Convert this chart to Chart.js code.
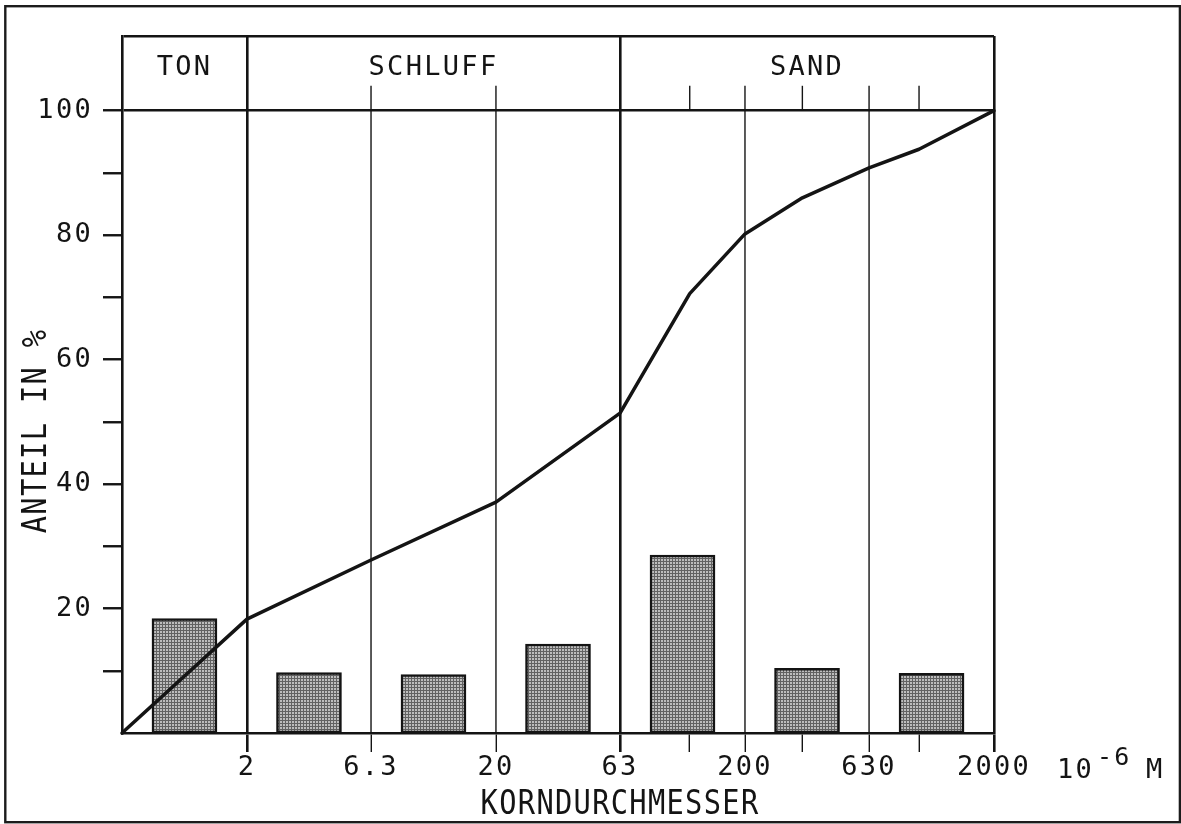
<!DOCTYPE html>
<html>
<head>
<meta charset="utf-8">
<title>Korngrößenverteilung</title>
<script src="https://cdn.jsdelivr.net/npm/chart.js@4"></script>
<style>
  html, body { margin: 0; padding: 0; background: #fff; }
  #wrap { width: 1181px; height: 824px; position: relative; }
</style>
</head>
<body>
<div id="wrap"><canvas id="grain"></canvas></div>
<script>
// Grain size classes (diameter in 10^-6 m) and mass fraction per class in %
const classEdges  = [0.63, 2, 6.3, 20, 63, 200, 630, 2000];
const fractionPct = [18.4, 9.7, 9.4, 14.3, 28.6, 10.4, 9.6];

// Cumulative passing curve
const sieveSizes = [0.63, 2, 6.3, 20, 63, 120, 200, 340, 630, 1000, 2000];
const passingPct = [0, 18.3, 27.8, 37.1, 51.4, 70.6, 80.2, 86.0, 90.8, 93.8, 100];

// Axis ticks
const majorTicks = [2, 6.3, 20, 63, 200, 630, 2000];
const tickLabels = ['2', '6.3', '20', '63', '200', '630', '2000'];
const minorTicks = [120, 340, 1000];
const yTickVals  = [10, 20, 30, 40, 50, 60, 70, 80, 90, 100];
const yLabelVals = [20, 40, 60, 80, 100];

// Soil classes shown in the header band
const soilNames  = ['TON', 'SCHLUFF', 'SAND'];
const soilBounds = [[0.63, 2], [2, 63], [63, 2000]];
const mainBounds = [2, 63, 2000];

const X_MIN = classEdges[0];
const X_MAX = classEdges[classEdges.length - 1];
const INK = '#141414';
const MONO = 'DejaVu Sans Mono';
const Y_TOP = 112;          // upper edge of the header band
const HEADER_TICK = 104;    // upper end of thin grid lines / header ticks
const HEADER_TEXT = 105.8;  // baseline of the class names
const LABEL_SPACING = '2.3px';

function stipple() {
  const p = document.createElement('canvas');
  p.width = 3; p.height = 3;
  const g = p.getContext('2d');
  g.fillStyle = '#bdbdbd'; g.fillRect(0, 0, 3, 3);
  g.fillStyle = '#626262'; g.fillRect(0, 0, 3, 1); g.fillRect(0, 0, 1, 3);
  return g.createPattern(p, 'repeat');
}

const decor = {
  id: 'decor',
  beforeDraw(chart) {
    chart.ctx.letterSpacing = LABEL_SPACING;
  },
  beforeDatasetsDraw(chart) {
    const { ctx, chartArea: a, scales: { x, y } } = chart;
    const seg = (x1, y1, x2, y2) => { ctx.beginPath(); ctx.moveTo(x1, y1); ctx.lineTo(x2, y2); ctx.stroke(); };
    const top = y.getPixelForValue(HEADER_TICK);
    ctx.save();
    ctx.strokeStyle = INK;
    ctx.lineWidth = 1.4;
    majorTicks.filter(v => !mainBounds.includes(v)).forEach(v => {
      const px = x.getPixelForValue(v);
      seg(px, a.bottom, px, top);
    });
    minorTicks.forEach(v => {
      const px = x.getPixelForValue(v);
      seg(px, y.getPixelForValue(100), px, top);
    });
    ctx.restore();
  },
  afterDraw(chart) {
    const { ctx, scales: { x, y } } = chart;
    ctx.save();
    ctx.fillStyle = INK;

    // class names in the header band
    ctx.letterSpacing = LABEL_SPACING;
    ctx.font = '27px "' + MONO + '"';
    ctx.textAlign = 'center';
    ctx.textBaseline = 'alphabetic';
    soilNames.forEach((n, i) => {
      const [lo, hi] = soilBounds[i];
      ctx.fillText(n, x.getPixelForValue(Math.sqrt(lo * hi)), y.getPixelForValue(HEADER_TEXT));
    });

    // unit next to the x axis
    ctx.textAlign = 'left';
    ctx.fillText('10', 1057, 777.5);
    ctx.font = '25px "' + MONO + '"';
    ctx.fillText('-6', 1097, 765);
    ctx.font = '27px "' + MONO + '"';
    ctx.fillText('M', 1146, 777.5);

    // axis titles
    ctx.letterSpacing = '1.5px';
    ctx.font = '33px "' + MONO + '"';
    ctx.textAlign = 'center';
    ctx.save();
    ctx.translate(x.getPixelForValue(63), 814);
    ctx.scale(0.87, 1);
    ctx.fillText('KORNDURCHMESSER', 0, 0);
    ctx.restore();

    ctx.save();
    ctx.translate(45.5, 431);
    ctx.rotate(-Math.PI / 2);
    ctx.scale(0.87, 1);
    ctx.fillText('ANTEIL IN %', 0, 0);
    ctx.restore();

    // outer frame
    ctx.strokeStyle = '#1c1c1c';
    ctx.lineWidth = 2.4;
    ctx.strokeRect(5.3, 6.2, 1174.6, 816);
    ctx.restore();
  }
};

const tickFont = { family: MONO, size: 27 };

new Chart(document.getElementById('grain'), {
  type: 'bar',
  data: {
    datasets: [
      {
        type: 'line',
        data: sieveSizes.map((d, i) => ({ x: d, y: passingPct[i] })),
        borderColor: INK,
        borderWidth: 3.5,
        borderJoinStyle: 'round',
        borderCapStyle: 'round',
        pointRadius: 0,
        tension: 0,
        clip: false,
        order: 0
      },
      {
        type: 'bar',
        data: fractionPct.map((v, i) => ({ x: Math.sqrt(classEdges[i] * classEdges[i + 1]), y: v })),
        backgroundColor: stipple(),
        borderColor: INK,
        borderWidth: 2.5,
        borderSkipped: false,
        barThickness: 65,
        order: 1
      }
    ]
  },
  options: {
    responsive: true,
    maintainAspectRatio: false,
    animation: false,
    events: [],
    layout: { padding: { left: 0, top: 36, right: 187, bottom: 0 } },
    plugins: { legend: { display: false }, tooltip: { enabled: false }, title: { display: false } },
    scales: {
      x: {
        type: 'logarithmic',
        min: X_MIN,
        max: X_MAX,
        bounds: 'data',
        offset: false,
        afterBuildTicks: s => {
          s.min = X_MIN;
          s.max = X_MAX;
          s.ticks = majorTicks.concat(minorTicks).sort((a, b) => a - b).map(v => ({ value: v }));
        },
        afterFit: s => { s.height = 91; },
        ticks: {
          autoSkip: false, maxRotation: 0, minRotation: 0, padding: 0,
          color: INK, font: tickFont,
          callback: v => { const i = majorTicks.indexOf(v); return i < 0 ? '' : tickLabels[i]; }
        },
        grid: {
          offset: false,
          color: c => (c.tick && mainBounds.includes(c.tick.value)) ? INK : 'rgba(0,0,0,0)',
          lineWidth: 2.6,
          tickColor: INK,
          tickLength: 19,
          tickWidth: c => (c.tick && mainBounds.includes(c.tick.value)) ? 2.6 : 1.4
        },
        border: { display: true, color: INK, width: 2.6 }
      },
      y: {
        type: 'linear',
        min: 0,
        max: Y_TOP,
        afterBuildTicks: s => {
          s.ticks = yTickVals.concat([Y_TOP]).map(v => ({ value: v }));
        },
        afterFit: s => { s.width = 122; },
        ticks: {
          padding: 10, color: INK, font: tickFont,
          callback: v => yLabelVals.includes(v) ? String(v) : ''
        },
        grid: {
          color: c => (c.tick && (c.tick.value === 100 || c.tick.value === Y_TOP)) ? INK : 'rgba(0,0,0,0)',
          lineWidth: 2.5,
          tickColor: c => (c.tick && c.tick.value === Y_TOP) ? 'rgba(0,0,0,0)' : INK,
          tickLength: 19,
          tickWidth: 2.4
        },
        border: { display: true, color: INK, width: 2.6 }
      }
    }
  },
  plugins: [decor]
});
</script>
</body>
</html>
